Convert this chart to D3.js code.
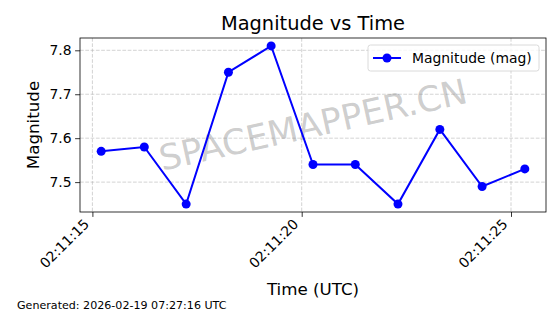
<!DOCTYPE html>
<html>
<head>
<meta charset="utf-8">
<script src="https://cdn.jsdelivr.net/npm/d3@7"></script>
<style>
  body { margin: 0; background: #fff; }
  svg { display: block; font-family: "DejaVu Sans", sans-serif; }
</style>
</head>
<body>
<div class="chart"></div>
<script>
// Data
const times = ['02:11:15.21', '02:11:16.24', '02:11:17.24', '02:11:18.25', '02:11:19.27',
               '02:11:20.27', '02:11:21.28', '02:11:22.30', '02:11:23.30', '02:11:24.31', '02:11:25.33'];
const magnitudes = [7.57, 7.58, 7.45, 7.75, 7.81, 7.54, 7.54, 7.45, 7.62, 7.49, 7.53];
const yTicks = [7.5, 7.6, 7.7, 7.8];
const xTickLabels = ['02:11:15', '02:11:20', '02:11:25'];

const W = 560, H = 314;
const margin = { left: 80, right: 14, top: 38, bottom: 102 };
const w = W - margin.left - margin.right,
      h = H - margin.top - margin.bottom;

const parseT = d3.utcParse('%H:%M:%S.%L');
const toDate = s => parseT(s.length === 11 ? s + '0' : s);
const parseTick = d3.utcParse('%H:%M:%S');

const data = times.map((t, i) => ({ date: toDate(t), value: magnitudes[i] }));

const svg = d3.select('.chart').append('svg').attr('width', W).attr('height', H);

// matplotlib-style 5% padding
const xExt = d3.extent(data, d => d.date);
const xPad = (xExt[1] - xExt[0]) * 0.05;
const x = d3.scaleUtc()
    .domain([new Date(+xExt[0] - xPad), new Date(+xExt[1] + xPad)])
    .range([0, w]);

const yExt = d3.extent(data, d => d.value);
const yPad = (yExt[1] - yExt[0]) * 0.05;
const y = d3.scaleLinear().domain([yExt[0] - yPad, yExt[1] + yPad]).range([h, 0]);

const g = svg.append('g').attr('transform', 'translate(' + margin.left + ',' + margin.top + ')');

// grid
const xTickDates = xTickLabels.map(parseTick);
g.append('g').selectAll('line').data(xTickDates).enter().append('line')
    .attr('x1', d => x(d)).attr('x2', d => x(d)).attr('y1', 0).attr('y2', h)
    .attr('stroke', '#b0b0b0').attr('stroke-opacity', 0.7).attr('stroke-dasharray', '3.7,1.6').attr('stroke-width', 0.8);
g.append('g').selectAll('line').data(yTicks).enter().append('line')
    .attr('y1', d => y(d)).attr('y2', d => y(d)).attr('x1', 0).attr('x2', w)
    .attr('stroke', '#b0b0b0').attr('stroke-opacity', 0.7).attr('stroke-dasharray', '3.7,1.6').attr('stroke-width', 0.8);

// watermark (behind the line)
g.append('text')
    .attr('transform', 'translate(' + (w / 2) + ',' + (h / 2) + ') rotate(-12.5)')
    .attr('text-anchor', 'middle').attr('dominant-baseline', 'central')
    .attr('font-size', 35).attr('fill', '#808080').attr('fill-opacity', 0.4)
    .text('SPACEMAPPER.CN');

// line + markers
const line = d3.line().x(d => x(d.date)).y(d => y(d.value));
g.append('path').datum(data)
    .attr('d', line).attr('fill', 'none').attr('stroke', '#0000ff').attr('stroke-width', 2);
g.append('g').selectAll('circle').data(data).enter().append('circle')
    .attr('cx', d => x(d.date)).attr('cy', d => y(d.value)).attr('r', 4.5).attr('fill', '#0000ff');

// axes
const xAxis = g.append('g').attr('transform', 'translate(0,' + h + ')')
    .call(d3.axisBottom(x).tickValues(xTickDates).tickFormat(d3.utcFormat('%H:%M:%S')).tickSizeOuter(0).tickSize(4.9).tickPadding(3.5));
xAxis.select('.domain').remove();
xAxis.selectAll('text')
    .attr('font-size', 13.9).attr('fill', '#000')
    .attr('text-anchor', 'end').attr('dy', null).attr('y', null)
    .attr('transform', 'translate(-3,13) rotate(-45)');

const yAxis = g.append('g')
    .call(d3.axisLeft(y).tickValues(yTicks).tickFormat(d3.format('.1f')).tickSizeOuter(0).tickSize(4.9).tickPadding(3.5));
yAxis.select('.domain').remove();
yAxis.selectAll('text').attr('font-size', 13.9).attr('fill', '#000');
svg.selectAll('.tick line').attr('stroke', '#000').attr('stroke-width', 0.8);
svg.selectAll('.tick text').attr('font-family', '"DejaVu Sans", sans-serif');

// frame
g.append('rect').attr('width', w).attr('height', h)
    .attr('fill', 'none').attr('stroke', '#000').attr('stroke-width', 0.8);

// legend
const leg = g.append('g').attr('transform', 'translate(' + (w - 178) + ',7)');
leg.append('rect').attr('width', 171).attr('height', 26).attr('rx', 2.5)
    .attr('fill', '#fff').attr('fill-opacity', 0.8).attr('stroke', '#d0d0d0').attr('stroke-width', 0.8);
leg.append('line').attr('x1', 5).attr('x2', 33).attr('y1', 13).attr('y2', 13)
    .attr('stroke', '#0000ff').attr('stroke-width', 2);
leg.append('circle').attr('cx', 19).attr('cy', 13).attr('r', 4.5).attr('fill', '#0000ff');
leg.append('text').attr('x', 44).attr('y', 13).attr('dy', '0.35em')
    .attr('font-size', 13.9).text('Magnitude (mag)');

// titles
svg.append('text').attr('x', margin.left + w / 2).attr('y', 30)
    .attr('text-anchor', 'middle').attr('font-size', 19.4).text('Magnitude vs Time');
svg.append('text').attr('x', margin.left + w / 2).attr('y', 295)
    .attr('text-anchor', 'middle').attr('font-size', 16.7).text('Time (UTC)');
svg.append('text').attr('transform', 'translate(39,' + (margin.top + h / 2) + ') rotate(-90)')
    .attr('text-anchor', 'middle').attr('font-size', 16.7).text('Magnitude');

svg.append('text').attr('x', 17).attr('y', 309)
    .attr('font-size', 11.1).text('Generated: 2026-02-19 07:27:16 UTC');
</script>
</body>
</html>
